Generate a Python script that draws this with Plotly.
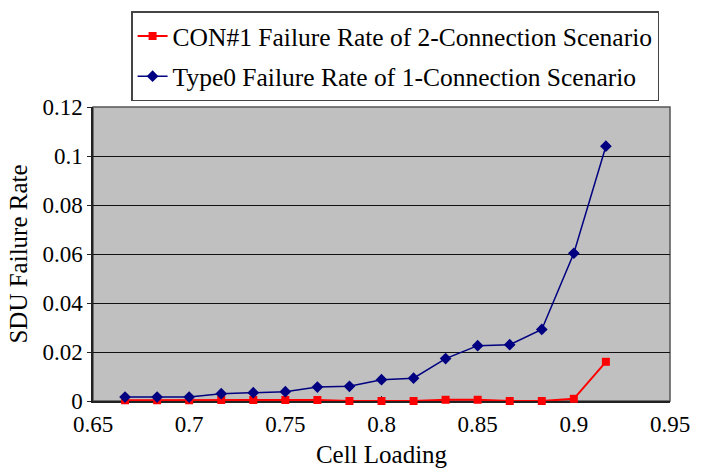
import plotly.graph_objects as go

cell_loading = [40/60, 41/60, 42/60, 43/60, 44/60, 45/60, 46/60, 47/60,
                48/60, 49/60, 50/60, 51/60, 52/60, 53/60, 54/60, 55/60]
con1_rate = [0.0003, 0.0003, 0.0003, 0.0004, 0.0004, 0.0004, 0.0004, 0.0,
             0.0, 0.0, 0.0005, 0.0005, 0.0, 0.0, 0.0009, 0.016]
type0_rate = [0.0016, 0.0016, 0.0016, 0.003, 0.0034, 0.0038, 0.0057, 0.006,
              0.0087, 0.0093, 0.0173, 0.0226, 0.023, 0.0292, 0.0603, 0.104]
x_ticks = [0.65, 0.7, 0.75, 0.8, 0.85, 0.9, 0.95]
x_labels = ["0.65", "0.7", "0.75", "0.8", "0.85", "0.9", "0.95"]
y_ticks = [0, 0.02, 0.04, 0.06, 0.08, 0.1, 0.12]
y_labels = ["0", "0.02", "0.04", "0.06", "0.08", "0.1", "0.12"]

FONT = "Liberation Serif, Times New Roman, serif"

fig = go.Figure()
fig.add_trace(go.Scatter(
    x=cell_loading, y=con1_rate, mode="lines+markers",
    name="CON#1 Failure Rate of 2-Connection Scenario", legendgroup="a",
    line=dict(color="#FF0000", width=2),
    marker=dict(symbol="square", size=8, color="#FF0000"),
    cliponaxis=False,
))
fig.add_trace(go.Scatter(
    x=cell_loading, y=type0_rate, mode="lines+markers",
    name="Type0 Failure Rate of 1-Connection Scenario", legendgroup="b",
    line=dict(color="#000080", width=1.5),
    marker=dict(symbol="diamond", size=9, color="#000080"),
    cliponaxis=False,
))

fig.update_layout(
    width=702, height=476,
    margin=dict(l=93, r=22, t=107, b=72),
    paper_bgcolor="white",
    plot_bgcolor="#C0C0C0",
    font=dict(family=FONT, size=23, color="black"),
    showlegend=True,
    legend=dict(
        x=0.066, y=1.325, xanchor="left", yanchor="top",
        bgcolor="white", bordercolor="#444444", borderwidth=1.5,
        font=dict(family=FONT, size=25.5, color="black"),
        itemwidth=30, tracegroupgap=4,
    ),
    xaxis=dict(
        range=[0.65, 0.95], tickvals=x_ticks, ticktext=x_labels,
        showgrid=False, zeroline=False, layer="below traces",
        showline=True, linecolor="#222222", linewidth=1.5, mirror=False,
        ticks="inside", ticklen=5, tickcolor="#222222",
        ticklabelstandoff=2,
        title=dict(text="Cell Loading", font=dict(family=FONT, size=25), standoff=9),
        tickfont=dict(family=FONT, size=23),
    ),
    yaxis=dict(
        range=[0, 0.12], tickvals=y_ticks, ticktext=y_labels,
        showgrid=True, gridcolor="#111111", gridwidth=1, zeroline=False,
        layer="below traces",
        showline=True, linecolor="#222222", linewidth=1.5,
        ticks="outside", ticklen=4, tickcolor="#222222",
        title=dict(text="SDU Failure Rate", font=dict(family=FONT, size=25), standoff=8),
        tickfont=dict(family=FONT, size=23),
    ),
    shapes=[dict(type="rect", xref="paper", yref="paper", x0=0, y0=0, x1=1, y1=1,
                 line=dict(color="#555555", width=1.5), layer="below")],
)

fig.write_html("out.html")
